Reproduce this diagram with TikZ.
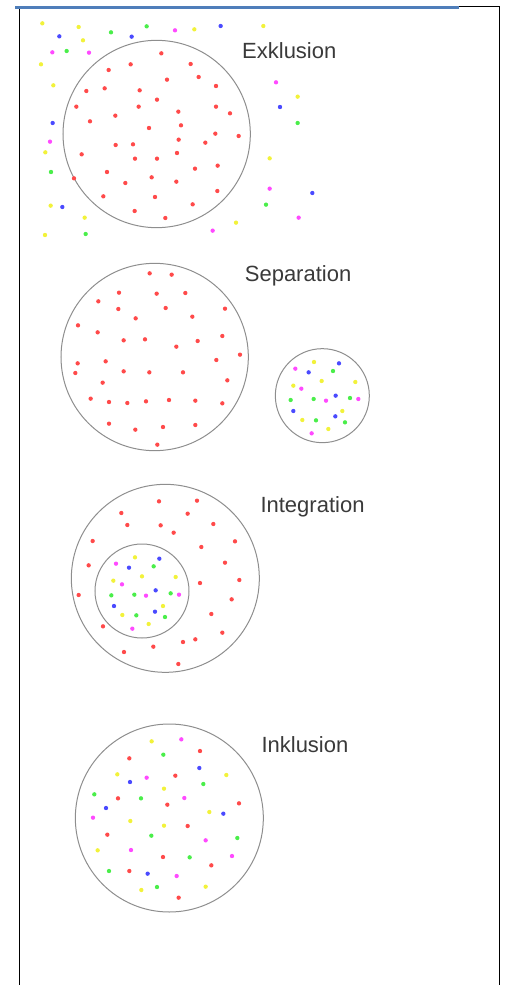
\documentclass[tikz,border=0pt]{standalone}
\usepackage{fontspec}
\setmainfont{Liberation Sans}
\definecolor{dR}{HTML}{FF4A4A}
\definecolor{dY}{HTML}{F2F23A}
\definecolor{dG}{HTML}{4AEE4A}
\definecolor{dB}{HTML}{4A4AFF}
\definecolor{dM}{HTML}{FF4AFF}
\definecolor{ringc}{HTML}{8E8E8E}
\definecolor{txtc}{HTML}{3A3A3A}
\definecolor{topblue}{HTML}{4F7EBA}
\newcommand{\dts}[2]{\foreach \px/\py in {#2} {\fill[#1] (\px,\py) circle[radius=6.5];}}
\tikzset{
  ring/.style={draw=ringc, line width=1pt},
  lbl/.style={text=txtc, font=\fontsize{22}{25}\selectfont, inner sep=0pt, anchor=west},
  frame/.style={draw=black, line width=1pt}
}
\begin{document}
\begin{tikzpicture}[x=1pt,y=-1pt]
\useasboundingbox (0,0) rectangle (504,985);
% frame
\draw[frame] (19,985) -- (19,6) -- (499.5,6) -- (499.5,985);
\draw[topblue, line width=3pt] (15,7.5) -- (459,7.5);

% ---------- Exklusion ----------
\begin{scope}[scale=1/3]
\draw[ring] (470,402) circle[radius=281];
\node[lbl] (exk) at (726,153) {Exklusion};
\dts{dR}{484/160,392/193,572/192,326/210,596/231,501/239,259/273,314/265,419/271,648/258,471/299,229/320,416/320,648/320,535/335,690/340,346/347,270/364,543/376,447/384,646/401,716/408,536/419,616/428,347/435,399/433,245/463,405/476,471/476,531/459,585/506,653/497,321/516,222/535,455/532,376/549,529/545,652/573,310/589,465/591,578/613,404/633,496/654}
\dts{dY}{127/70,236/81,583/88,790/78,249/121,123/193,160/256,893/290,136/457,809/475,152/617,254/653,708/668,135/705}
\dts{dG}{440/79,333/97,200/153,893/369,153/516,798/614,257/702}
\dts{dB}{662/78,178/109,395/110,840/321,158/369,937/579,187/621}
\dts{dM}{525/91,157/157,267/158,828/247,150/425,809/566,896/653,638/692}
\end{scope}

% ---------- Separation ----------
\begin{scope}[shift={(0,250)},scale=1/3]
\draw[ring] (464,321) circle[radius=281];
\draw[ring] (967,437) circle[radius=141];
\node[lbl] (sep) at (734,77) {Separation};
\dts{dR}{449/70,515/74,357/128,470/131,556/129,295/154,355/177,497/174,675/176,407/205,577/200,234/226,293/247,371/271,435/268,593/273,667/258,529/290,720/314,649/330,233/340,317/334,226/369,371/364,448/367,549/367,682/391,308/398,272/446,327/456,382/459,438/454,507/450,586/452,667/460,327/521,406/539,489/531,586/525,472/584}
\dts{dM}{886/356,904/416,978/452,1075/447,935/550}
\dts{dY}{942/336,880/407,965/393,1066/396,1027/483,907/510,985/537}
\dts{dB}{1017/340,926/367,1007/437,880/483,1006/499}
\dts{dG}{999/363,872/450,941/447,1050/444,948/511,1035/517}
\end{scope}

% ---------- Integration ----------
\begin{scope}[shift={(0,470)},scale=1/3]
\draw[ring] (496,325) circle[radius=282];
\draw[ring] (426,363) circle[radius=141];
\node[lbl] (int) at (781,109) {Integration};
\dts{dR}{477/94,591/92,364/129,563/131,382/165,482/166,640/162,521/188,278/213,705/214,604/231,266/286,675/278,718/330,600/339,236/375,695/388,634/432,309/469,667/488,549/516,586/508,460/530,372/546,535/582}
\dts{dM}{348/281,366/343,438/377,537/374,397/476}
\dts{dY}{405/262,340/332,426/319,527/321,489/408,367/435,446/462}
\dts{dB}{478/266,387/293,467/361,342/408,465/425}
\dts{dG}{461/289,334/376,403/374,512/370,409/436,495/441}
\end{scope}

% ---------- Inklusion ----------
\begin{scope}[shift={(0,690)},scale=1/3]
\draw[ring] (508,384) circle[radius=282];
\node[lbl] (ink) at (784,163) {Inklusion};
\dts{dR}{600/183,388/205,526/257,354/325,502/344,717/340,563/408,322/434,489/501,634/526,388/543,536/623}
\dts{dY}{455/154,352/253,679/255,492/296,391/393,628/366,492/407,293/481,424/600,617/590}
\dts{dG}{490/194,610/282,283/313,423/325,454/437,712/444,569/502,327/543,471/591}
\dts{dB}{598/234,390/276,318/354,670/371,443/551}
\dts{dM}{544/148,440/263,553/324,279/383,617/451,393/480,696/498,530/558}
\end{scope}
\end{tikzpicture}
\end{document}
